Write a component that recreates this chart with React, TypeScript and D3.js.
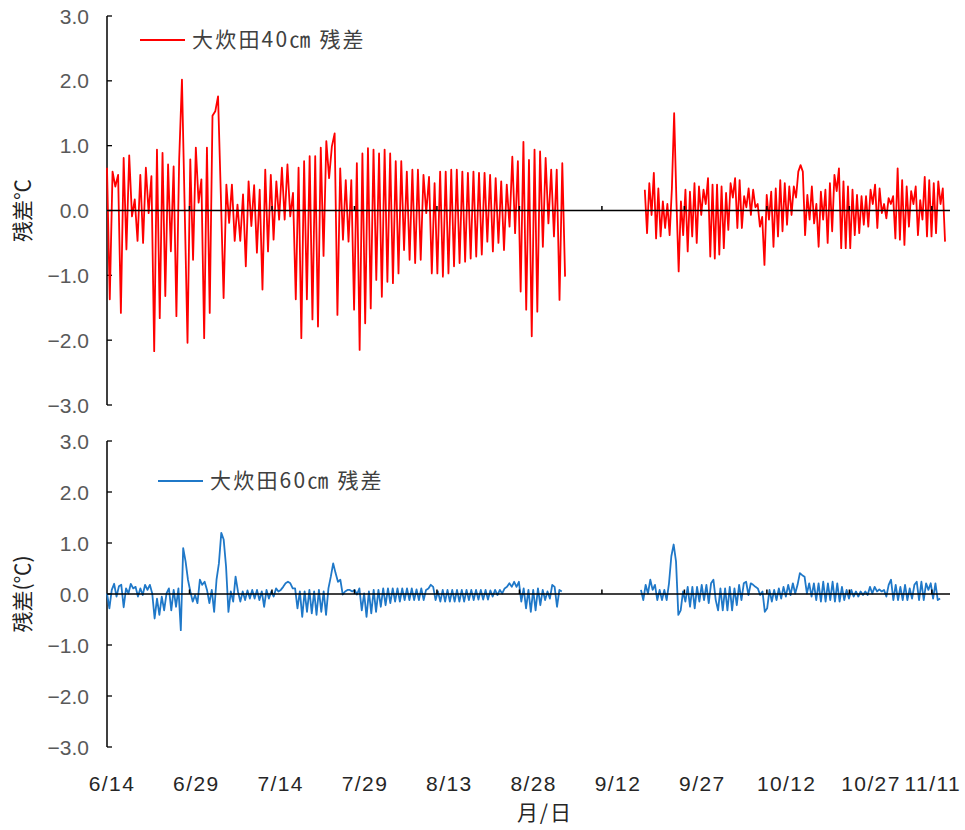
import React from "react";
import * as d3 from "d3";

// ---- axis categories / ticks ----
const dateLabels = ["6/14", "6/29", "7/14", "7/29", "8/13", "8/28", "9/12", "9/27", "10/12", "10/27", "11/11"];
const labelDays = [0, 15, 30, 45, 60, 75, 90, 105, 120, 135, 150];
const zeroLineTickDays = [15, 30, 45, 60, 75, 90, 105, 120, 135, 150];
const yTicks = [3, 2, 1, 0, -1, -2, -3];
const dayDomain = [0, 153.3];

// ---- 大炊田40cm 残差 (~2 per day) ----
const red40Part1Days = [0, 83.3];
const red40Part1 = [
  0.66, -1.37, 0.6, 0.37, 0.55, -1.58, 0.81, -0.6, 0.85, -0.09, 0.17, -0.47, 0.55, -0.5, 0.66, -0.04,
  0.53, -2.17, 0.94, -1.66, 0.89, -1.32, 0.71, -0.63, 0.68, -1.63, 0.79, 2.02, 0.0, -2.04, 0.79, -0.76,
  0.97, 0.12, 0.48, -1.97, 0.97, -1.58, 1.46, 1.53, 1.76, 0.25, -1.35, 0.4, -0.19, 0.4, -0.47, 0.09,
  -0.47, 0.25, -0.86, 0.45, -0.24, 0.39, -0.65, 0.32, -1.22, 0.63, -0.63, 0.55, -0.45, 0.45, -0.14, 0.66,
  -0.14, 0.71, -0.09, 0.27, -1.37, 0.66, -1.97, 0.76, -1.37, 0.84, -1.68, 0.84, -1.79, 0.97, -0.7, 1.07,
  0.5, 0.99,
  1.19, -1.61, 0.65, -0.45, 0.47, -0.48, 0.47, -1.53, 0.73, -2.15, 0.88, -1.74, 0.96, -1.51, 0.94, -1.07,
  0.88, -1.33, 0.94, -1.1, 0.88, -1.12, 0.76, -0.97, 0.76, -0.61, 0.6, -0.76, 0.63, -0.81, 0.63, -0.76,
  0.55, -0.04, 0.52, -0.97, 0.42, -0.97, 0.6, -1.02, 0.6, -0.97, 0.63, -0.86, 0.63, -0.81, 0.6, -0.79,
  0.58, -0.74, 0.6, -0.71, 0.58, -0.68, 0.58, -0.48, 0.55, -0.63, 0.5, -0.5, 0.45, -0.61, 0.4, -0.25,
  0.83, -0.35, 0.76, -1.25, 1.06, -1.53, 0.78, -1.94, 0.94, -1.56, 0.91, -0.56, 0.81, -0.2, 0.63, -0.4,
  0.63, -1.38, 0.73, -1.02,
];
const red40Part2Days = [97.8, 152.4];
const red40Part2 = [
  0.32, -0.35, 0.42, -0.07, 0.58, -0.43, 0.34, -0.4, 0.14, -0.27, 0.1, -0.38, 0.34, 1.5, 0.16, -0.94,
  0.14, -0.38, 0.32, -0.63, 0.29, -0.4, 0.42, -0.5, 0.37, -0.07, 0.32, 0.1, 0.5, -0.71, 0.4, -0.74,
  0.4, -0.68, 0.37, -0.58, 0.27, -0.3, 0.42, 0.2, 0.5, -0.27, 0.47, -0.27, 0.22, 0.05, 0.34, -0.07,
  0.32, 0.05, 0.1, -0.25, -0.1, -0.84, 0.24, -0.14, 0.29, -0.56, 0.34, -0.4, 0.47, -0.32, 0.42, -0.22,
  0.37, -0.07, 0.37, 0.2, 0.6, 0.7, 0.6, -0.38, 0.24, -0.14, 0.37, -0.2, 0.1, -0.56, 0.29, -0.14,
  0.32, -0.5, 0.42, -0.32, 0.55, 0.3, 0.65, -0.58, 0.45, -0.58, 0.37, -0.58, 0.32, -0.38, 0.24, -0.35,
  0.22, -0.22, 0.22, -0.25, 0.32, 0.1, 0.4, -0.27, 0.34, -0.04, 0.1, -0.12, 0.19, 0.1, 0.22, -0.43,
  0.65, -0.45, 0.47, -0.53, 0.37, -0.25, 0.3, 0.1, 0.37, -0.38, 0.16, -0.14, 0.52, -0.4, 0.47, -0.4,
  0.42, -0.35, 0.45, 0.1, 0.34, -0.48,
];

// ---- 大炊田60cm 残差 ----
const blue60Part1Days = [0, 82.7];
const blue60Part1 = [
  0.01, -0.28, 0.08, 0.2, -0.05, 0.15, 0.18, -0.26, 0.11, 0.01, 0.2, 0.11, 0.14, -0.05, 0.11, -0.02,
  0.18, 0.08, 0.18, 0.01, -0.48, -0.09, -0.41, -0.05, -0.32, 0.01, 0.11, -0.32, 0.08, -0.25, 0.11, -0.71,
  0.9, 0.64, 0.28, 0.05, -0.15, -0.02, -0.18, 0.28, 0.18, 0.24, 0.08, -0.18, 0.08, -0.35, 0.28, 0.6,
  1.2, 1.07, 0.54, -0.35, 0.05, -0.15, 0.34, 0.05, -0.15, 0.05, -0.12, 0.07, -0.09, 0.08, -0.09, 0.08,
  -0.12, 0.05, -0.25, 0.08, -0.09, 0.05, -0.05, 0.11, 0.05, 0.08, 0.14, 0.21, 0.24, 0.21, 0.11, 0.11,
  -0.28, 0.05, -0.45, 0.05, -0.35, 0.08, -0.38, 0.05, -0.41, 0.08, -0.35, 0.05, -0.41, 0.11, 0.34, 0.6,
  0.41, 0.24,
  0.28, -0.01, 0.05, 0.08, 0.08, 0.05, 0.08, -0.01, 0.11, -0.32, 0.01, -0.45, 0.05, -0.38, 0.08, -0.35,
  0.08, -0.25, 0.11, -0.22, 0.11, -0.18, 0.11, -0.15, 0.11, -0.15, 0.11, -0.12, 0.11, -0.12, 0.11, -0.12,
  0.09, -0.12, 0.11, -0.12, 0.08, 0.11, 0.18, 0.14, -0.12, 0.05, -0.15, 0.08, -0.15, 0.08, -0.15, 0.08,
  -0.15, 0.08, -0.15, 0.08, -0.15, 0.08, -0.12, 0.08, -0.12, 0.08, -0.11, 0.08, -0.11, 0.08, -0.11, 0.07,
  -0.05, 0.08, -0.02, 0.08, 0.01, 0.11, 0.14, 0.21, 0.14, 0.24, 0.14, 0.24, -0.15, 0.11, -0.28, 0.08,
  -0.35, 0.08, -0.32, 0.11, -0.22, 0.08, -0.12, 0.05, -0.09, 0.18, 0.14, -0.25, 0.08, 0.05,
];
const blue60Part2Days = [97.1, 151.5];
const blue60Part2 = [
  0.08, -0.12, 0.18, 0.01, 0.28, 0.08, 0.18, -0.12, 0.08, -0.12, 0.08, -0.12, 0.21, 0.74, 0.97, 0.64,
  -0.41, -0.32, 0.05, -0.15, 0.14, -0.25, 0.14, -0.28, 0.14, -0.15, 0.18, -0.12, 0.18, -0.18, 0.21, 0.28,
  -0.12, -0.32, 0.11, -0.32, 0.11, -0.32, 0.14, -0.32, 0.11, -0.22, 0.18, -0.12, 0.21, 0.24, -0.02, 0.21,
  0.18, 0.14, 0.11, -0.02, 0.05, -0.35, -0.28, 0.08, -0.15, 0.08, -0.12, 0.11, -0.09, 0.14, -0.05, 0.18,
  -0.02, 0.21, 0.01, 0.18, 0.41, 0.37, 0.34, 0.01, 0.21, -0.05, 0.21, -0.12, 0.21, -0.15, 0.24, -0.15,
  0.21, -0.12, 0.24, -0.15, 0.21, -0.15, 0.14, -0.12, 0.08, -0.09, 0.08, -0.05, 0.05, -0.05, 0.05, -0.02,
  0.05, -0.02, 0.14, 0.01, 0.14, 0.05, 0.09, 0.05, 0.08, -0.05, 0.18, 0.28, -0.12, 0.18, -0.12, 0.14,
  -0.12, 0.18, -0.12, 0.11, -0.09, 0.18, 0.24, -0.12, 0.24, -0.12, 0.21, 0.08, 0.21, -0.09, 0.21, -0.12,
  -0.09,
];

const W = 965;
const H = 830;
const AXIS_X = 107;
const RIGHT_X = 950;
const CJK = "'Noto Sans CJK JP', 'Noto Sans CJK SC', sans-serif";
const NUM = "'Liberation Sans', Arial, sans-serif";

const x = d3.scaleLinear().domain(dayDomain).range([AXIS_X, RIGHT_X]);
const labelX = d3.scaleLinear().domain([0, 135]).range([112, 871]);

type Seg = { days: number[]; values: number[] };

function segPath(seg: Seg, y: d3.ScaleLinear<number, number>) {
  const n = seg.values.length;
  const step = (seg.days[1] - seg.days[0]) / (n - 1);
  const line = d3
    .line<number>()
    .x((_, i) => x(seg.days[0] + i * step))
    .y((v) => y(v));
  return line(seg.values) || "";
}

function Panel(props: {
  top: number;
  bottom: number;
  segs: Seg[];
  color: string;
  width: number;
  title: string;
  legend: string;
  legendX: number;
  legendY: number;
}) {
  const y = d3.scaleLinear().domain([-3, 3]).range([props.bottom, props.top]);
  const y0 = y(0);
  return (
    <g>
      {/* y axis */}
      <line x1={AXIS_X} x2={AXIS_X} y1={props.top} y2={props.bottom} stroke="#000" strokeWidth={1.5} />
      {yTicks.map((t) => (
        <g key={t}>
          <line x1={AXIS_X} x2={AXIS_X + 5} y1={y(t)} y2={y(t)} stroke="#000" strokeWidth={1.3} />
          <text
            x={89}
            y={y(t) + 7.5}
            textAnchor="end"
            fontFamily={NUM}
            fontSize={21}
            fill="#595959"
          >
            {t < 0 ? "\u2212" + Math.abs(t).toFixed(1) : t.toFixed(1)}
          </text>
        </g>
      ))}
      {/* data */}
      {props.segs.map((s, i) => (
        <path key={i} d={segPath(s, y)} fill="none" stroke={props.color} strokeWidth={props.width} strokeLinejoin="round" />
      ))}
      {/* zero line */}
      <line x1={AXIS_X} x2={RIGHT_X} y1={y0} y2={y0} stroke="#000" strokeWidth={1.5} />
      {zeroLineTickDays.map((d) => (
        <line key={d} x1={x(d)} x2={x(d)} y1={y0} y2={y0 - 4.5} stroke="#000" strokeWidth={1.5} />
      ))}
      {/* y title */}
      <text
        transform={`translate(30,${y0}) rotate(-90)`}
        textAnchor="middle"
        fontFamily={CJK}
        fontSize={21}
        fill="#222"
      >
        {props.title}
      </text>
      {/* legend */}
      <line
        x1={props.legendX}
        x2={props.legendX + 45}
        y1={props.legendY}
        y2={props.legendY}
        stroke={props.color}
        strokeWidth={props.width}
      />
      <text
        x={props.legendX + 52}
        y={props.legendY + 7}
        fontFamily={CJK}
        fontSize={21}
        letterSpacing={2.2}
        fill="#404040"
      >
        {props.legend}
      </text>
    </g>
  );
}

export default function App() {
  return (
    <svg
      width={W}
      height={H}
      viewBox={`0 0 ${W} ${H}`}
      style={{ position: "absolute", left: 0, top: 0, background: "#fff" }}
    >
      <rect width={W} height={H} fill="#fff" />
      <Panel
        top={16}
        bottom={405}
        segs={[
          { days: red40Part1Days, values: red40Part1 },
          { days: red40Part2Days, values: red40Part2 },
        ]}
        color="#FF0000"
        width={1.8}
        title="残差℃"
        legend="大炊田40㎝ 残差"
        legendX={140}
        legendY={40}
      />
      <Panel
        top={441}
        bottom={747}
        segs={[
          { days: blue60Part1Days, values: blue60Part1 },
          { days: blue60Part2Days, values: blue60Part2 },
        ]}
        color="#1F78C8"
        width={1.8}
        title="残差(℃)"
        legend="大炊田60㎝ 残差"
        legendX={158}
        legendY={481}
      />
      {/* x labels */}
      {dateLabels.map((lab, i) => {
        const last = i === dateLabels.length - 1;
        return (
          <text
            key={lab}
            x={last ? 961 : labelX(labelDays[i])}
            y={791}
            textAnchor={last ? "end" : "middle"}
            fontFamily={NUM}
            fontSize={21}
            letterSpacing={1.4}
            fill="#262626"
          >
            {lab}
          </text>
        );
      })}
      <text x={545} y={820} textAnchor="middle" fontFamily={CJK} fontSize={21} letterSpacing={2} fill="#262626">
        月/日
      </text>
    </svg>
  );
}
